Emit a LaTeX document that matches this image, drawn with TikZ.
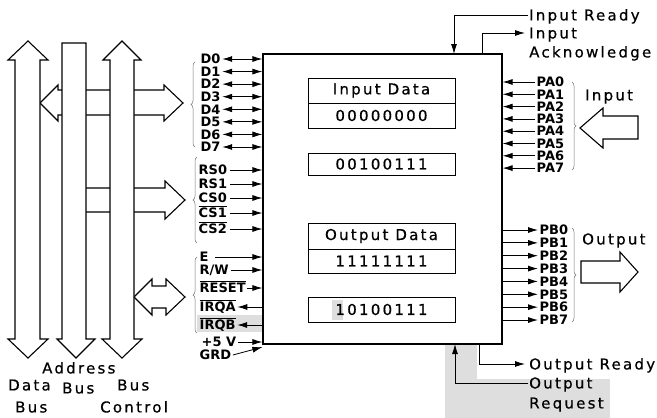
\documentclass[tikz,border=0pt]{standalone}
\usepackage{fontspec}
\setmainfont{DejaVu Sans}
\newfontfamily\widef{DejaVu Sans}[LetterSpace=15,FakeBold=0.6]
\newfontfamily\pinf{DejaVu Sans}
\usetikzlibrary{arrows.meta,decorations.pathreplacing,calc}
\newcommand\wtxt{\widef\fontsize{15pt}{17pt}\selectfont}
\newcommand\ptxt{\pinf\bfseries\fontsize{13pt}{14pt}\selectfont}
\newcommand\ovl[1]{\leavevmode\vbox{\hrule height 0.9pt\kern1.2pt\hbox{#1}}}
\begin{document}
\begin{tikzpicture}[x=1pt,y=-1pt,
  bus/.style={draw, line width=1.1pt, fill=white, line join=miter},
  pinlbl/.style={anchor=west, font=\ptxt, inner xsep=1.5pt, inner ysep=0pt, text height=9.5pt, text depth=0pt},
  wlbl/.style={anchor=west, font=\wtxt, inner xsep=1pt, inner ysep=0pt, text height=10.9pt, text depth=0pt},
  rarr/.style={-{Latex[length=10pt,width=6pt]}, line width=0.8pt},
  darr/.style={{Latex[length=10pt,width=6pt]}-{Latex[length=10pt,width=6pt]}, line width=0.8pt},
  carr/.style={-{Latex[length=10pt,width=6pt]}, line width=0.9pt},
  regbox/.style={draw, line width=1pt, minimum width=147pt, font=\wtxt, inner sep=0pt},
  brc/.style={draw=black!55, line width=0.5pt, decorate, decoration={brace, amplitude=4pt}},
  shade/.style={fill=black!13, draw=none}
]
\useasboundingbox (0,0) rectangle (657,418);
% scan shading
\fill[shade] (445,345) rectangle (477,418);
\fill[shade] (445,379) rectangle (610,418);
\fill[shade] (197,315) rectangle (262,332);
\fill[shade] (332,300) rectangle (343,320);

% fat horizontal arrows (behind buses)
\draw[bus] (40,103) -- (58,85) -- (58,90) -- (164,90) -- (164,85) -- (183,103) -- (164,121) -- (164,115) -- (58,115) -- (58,121) -- cycle;
\draw[bus] (74,188) -- (165,188) -- (165,181) -- (185,200) -- (165,219) -- (165,212) -- (74,212) -- cycle;
\draw[bus] (134,297) -- (152,279) -- (152,286) -- (166,286) -- (166,279) -- (185,297) -- (166,315) -- (166,308) -- (152,308) -- (152,315) -- cycle;

% buses
\draw[bus] (28,41) -- (48,60) -- (40,60) -- (40,339) -- (48,339) -- (28,358) -- (8,339) -- (15,339) -- (15,60) -- (8,60) -- cycle;
\draw[bus] (62,43) -- (86,43) -- (86,339) -- (95,339) -- (76,358) -- (57,339) -- (62,339) -- cycle;
\draw[bus] (122,41) -- (141,60) -- (134,60) -- (134,339) -- (142,339) -- (122,358) -- (102,339) -- (110,339) -- (110,60) -- (103,60) -- cycle;

% bus labels
\node[wlbl] (addr) at (41,368) {Address};
\node[wlbl] (addrbus) at (61,388) {Bus};
\node[wlbl] (data) at (7,385) {Data};
\node[wlbl] (databus) at (14,407) {Bus};
\node[wlbl] (ctlbus) at (116,385) {Bus};
\node[wlbl] (ctl) at (99,407) {Control};

% chip
\node[draw, line width=1.2pt, minimum width=239pt, minimum height=290pt, inner sep=0pt] (chip) at (382.5,199) {};

% registers
\node[regbox, minimum height=25pt] (indt) at (381.5,90.5) {Input Data};
\node[regbox, minimum height=25pt] (inval) at (381.5,115.5) {00000000};
\node[regbox, minimum height=22pt] (ctrl) at (381.5,164) {00100111};
\node[regbox, minimum height=26pt] (outdt) at (381.5,236) {Output Data};
\node[regbox, minimum height=24pt] (outval) at (381.5,261) {11111111};
\node[regbox, minimum height=25pt] (ddr) at (381.5,309.5) {10100111};

% data pins
\foreach \i in {0,...,7} {
  \node[pinlbl] (d\i) at (199,59+12.57*\i) {D\i};
  \draw[darr] (d\i.east) -- (chip.west |- d\i.east);
}
\draw[brc] (195,147) -- (195,62);

% select pins
\node[pinlbl] (rs0) at (197,170) {RS0};
\node[pinlbl] (rs1) at (197,184) {RS1};
\node[pinlbl] (cs0) at (197,198) {CS0};
\node[pinlbl] (cs1) at (197,213) {\ovl{CS1}};
\node[pinlbl] (cs2) at (197,229) {\ovl{CS2}};
\foreach \n in {rs0,rs1,cs0,cs1,cs2} {
  \draw[rarr] ([xshift=1pt]\n.east) -- (chip.west |- \n.east);
}
\draw[brc] (197,243) -- (197,157);

% control pins
\node[pinlbl] (e) at (198,257) {E};
\node[pinlbl] (rw) at (198,270) {R/W};
\node[pinlbl] (reset) at (198,288) {\ovl{RESET}};
\node[pinlbl] (irqa) at (198,307) {\ovl{IRQA}};
\node[pinlbl] (irqb) at (198,325) {\ovl{IRQB}};
\node[pinlbl] (vcc) at (200,342) {+5 V};
\node[pinlbl] (grd) at (198,355) {GRD};
\draw[rarr] ([xshift=5pt]e.east) -- (chip.west |- e.east);
\draw[rarr] ([xshift=1pt]rw.east) -- (chip.west |- rw.east);
\draw[rarr] (reset.east) -- (chip.west |- reset.east);
\draw[rarr] (chip.west |- irqa.east) -- (irqa.east);
\draw[rarr] (chip.west |- irqb.east) -- (irqb.east);
\draw[rarr] (vcc.east) -- (chip.west |- vcc.east);
\draw[rarr] (grd.east) -- ([yshift=-2.5pt]chip.south west);
\draw[brc] (197,333) -- (197,257);

% port A
\foreach \i in {0,...,7} {
  \node[pinlbl] (pa\i) at (535,82+12.3*\i) {PA\i};
  \draw[rarr] (pa\i.west) -- (chip.east |- pa\i.west);
}
\draw[brc] (572,82) -- (572,170);
\node[wlbl] (inlbl) at (584,95) {Input};
\draw[bus] (580,128) -- (603,108) -- (603,116) -- (638,116) -- (638,139) -- (603,139) -- (603,148) -- cycle;

% port B
\foreach \i in {0,...,7} {
  \node[pinlbl] (pb\i) at (538,230+12.86*\i) {PB\i};
  \draw[rarr] (chip.east |- pb\i.west) -- (pb\i.west);
}
\draw[brc] (572,228) -- (572,322);
\node[wlbl] (outlbl) at (581,239) {Output};
\draw[bus] (581,261) -- (620,261) -- (620,252) -- (638,272) -- (620,292) -- (620,283) -- (581,283) -- cycle;

% handshake lines
\node[wlbl] (inrdy) at (528,15) {Input Ready};
\node[wlbl] (inack) at (528,33) {Input};
\node[wlbl] (inack2) at (528,52) {Acknowledge};
\coordinate (irc) at (454,54);
\coordinate (iac) at (482,54);
\draw[carr] (inrdy.west) -| (irc);
\draw[carr] (iac) |- ([xshift=-3pt]inack.west);

\node[wlbl] (ordy) at (528,364) {Output Ready};
\node[wlbl] (oreq) at (528,383) {Output};
\node[wlbl] (oreq2) at (528,403) {Request};
\coordinate (orc) at (479,344);
\coordinate (oqc) at (455,344);
\draw[carr] (orc) |- ([xshift=-3pt]ordy.west);
\draw[carr] (oreq.west) -| (oqc);
\end{tikzpicture}
\end{document}
